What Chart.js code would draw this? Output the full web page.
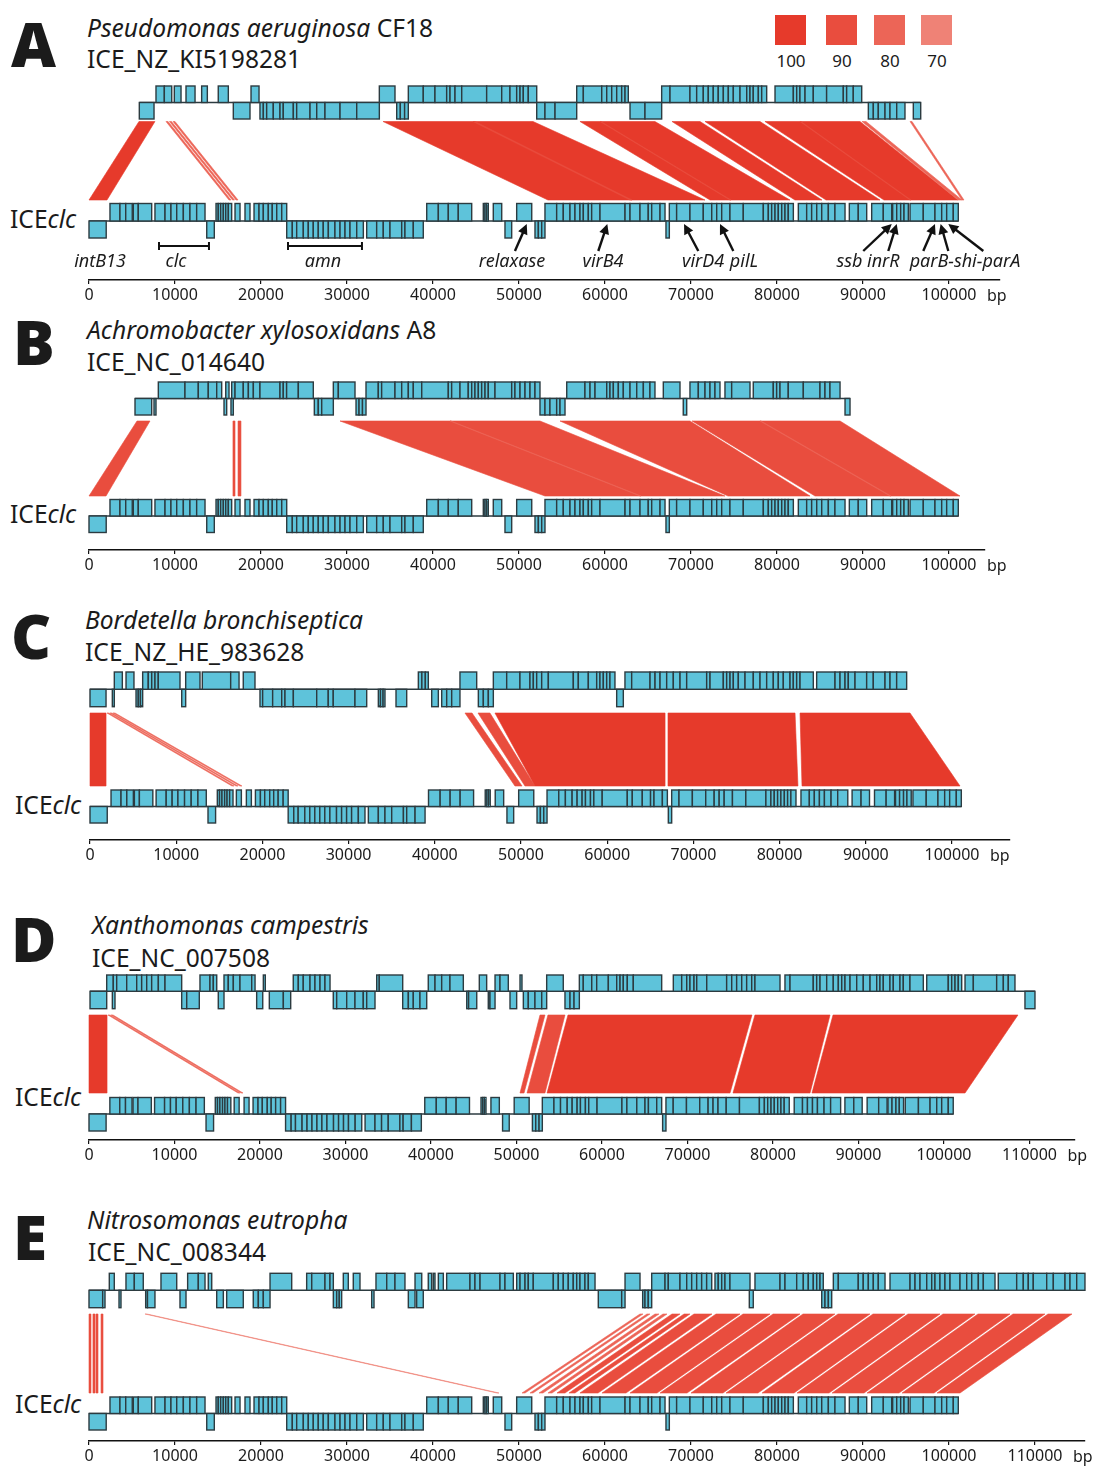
<!DOCTYPE html>
<html>
<head>
<meta charset="utf-8">
<script src="https://cdn.jsdelivr.net/npm/chart.js@4.4.0/dist/chart.umd.min.js"></script>
<style>
  body { margin: 0; background: #fff; width: 1103px; height: 1467px; position: relative; overflow: hidden;
         font-family: "Noto Sans", sans-serif; color: #1b1b1b; }
  .lt { position: absolute; font-weight: 900; font-size: 62px; line-height: 1; }
  .tx { position: absolute; font-size: 24.6px; line-height: 1; white-space: nowrap; }
  .tx i { font-style: italic; }
  canvas { position: absolute; left: 0; }
  #legend .sq { position: absolute; top: 15px; width: 31px; height: 30px; }
  #legend .lb { position: absolute; top: 52px; font-size: 17px; line-height: 1; width: 40px; text-align: center; }
</style>
</head>
<body>
<div class="lt" style="left:11px;top:12px">A</div>
<div class="tx" style="left:87px;top:16px"><i>Pseudomonas aeruginosa</i> CF18</div>
<div class="tx" style="left:87px;top:47px">ICE_NZ_KI5198281</div>
<div class="tx" style="left:10px;top:207px">ICE<i>clc</i></div>

<div class="lt" style="left:13px;top:310px">B</div>
<div class="tx" style="left:87px;top:318px"><i>Achromobacter xylosoxidans</i> A8</div>
<div class="tx" style="left:87px;top:350px">ICE_NC_014640</div>
<div class="tx" style="left:10px;top:502px">ICE<i>clc</i></div>

<div class="lt" style="left:11px;top:604px">C</div>
<div class="tx" style="left:85px;top:608px"><i>Bordetella bronchiseptica</i></div>
<div class="tx" style="left:85px;top:640px">ICE_NZ_HE_983628</div>
<div class="tx" style="left:15px;top:793px">ICE<i>clc</i></div>

<div class="lt" style="left:11px;top:907px">D</div>
<div class="tx" style="left:92px;top:913px"><i>Xanthomonas campestris</i></div>
<div class="tx" style="left:92px;top:946px">ICE_NC_007508</div>
<div class="tx" style="left:15px;top:1085px">ICE<i>clc</i></div>

<div class="lt" style="left:13px;top:1205px">E</div>
<div class="tx" style="left:87px;top:1208px"><i>Nitrosomonas eutropha</i></div>
<div class="tx" style="left:88px;top:1240px">ICE_NC_008344</div>
<div class="tx" style="left:15px;top:1392px">ICE<i>clc</i></div>

<div id="legend"></div>

<canvas id="cA"></canvas>
<canvas id="cB"></canvas>
<canvas id="cC"></canvas>
<canvas id="cD"></canvas>
<canvas id="cE"></canvas>

<script>
// identity legend
const identityLevels = [100, 90, 80, 70];
const identityColors = ['#e63a2b', '#e94d3e', '#ec6557', '#ef8276'];

// axis ticks (bp)
const ticks100 = [0, 10000, 20000, 30000, 40000, 50000, 60000, 70000, 80000, 90000, 100000];
const ticks110 = [0, 10000, 20000, 30000, 40000, 50000, 60000, 70000, 80000, 90000, 100000, 110000];

// genes: each run lists the borders (bp) of adjacent genes
const iceclcPlus = [
  [2440, 3600, 4270, 5030], [5150, 5730, 7290],
  [7670, 8840, 9530, 10200, 10970, 11740, 12520, 13490],
  [14770, 15030, 15310, 15620, 15900, 16200, 16590], [16980, 17560], [18140, 18720],
  [19190, 19770, 20270, 20850, 21310, 21830, 22410, 22990],
  [39270, 40620, 41780, 42940, 44500], [45850, 46050, 46250, 46430], [47010, 47990], [49730, 51480],
  [53020, 54380, 55150, 55930, 56510, 57090, 57480, 58060, 58450, 59420, 62330, 62910, 64070, 65030, 65430, 66400, 66980],
  [67480, 68330, 69880, 71430, 72410, 72990, 73570, 74530, 76080, 78410, 78990, 79380, 79770, 80150, 80550, 80930, 81310, 81900],
  [82480, 83450, 84030, 84620, 85200, 85970, 86740, 87910], [88410, 89450, 90430], [91010, 92360, 93340],
  [93450, 93920, 94380, 94770, 95270], [95470, 97010, 98370, 99150, 99730, 100500, 101080]
];
const iceclcMinus = [
  [0, 2000], [13690, 14570],
  [22990, 23640, 24150, 24920, 25500, 26080, 26660, 27240, 27830, 28600, 29190, 29770, 30350, 31130, 31900],
  [32290, 33450, 34220, 35000, 36360, 36740, 37710, 38870],
  [48370, 49150], [51860, 52250, 52640, 53020], [67090, 67480]
];

const aPlus = [
  [7790, 8760, 9620], [9920, 10700], [11280, 12330], [13100, 13760], [15030, 16200], [18840, 19770], [33760, 35580],
  [37130, 38870, 40230, 41590, 41980, 42560, 43340, 46240, 47990, 48950, 49730, 50120, 50500, 51080, 52060],
  [56710, 57480, 59620, 60200, 60780, 61360, 61940, 62330, 62710],
  [66590, 67560, 69880, 70660, 71430, 72010, 72590, 73170, 73760, 74340, 74920, 75700, 76480, 76860, 77240, 77830, 78220, 78800],
  [79770, 81900, 82290, 82670, 83260, 84220, 85770, 87710, 88100, 88870, 89850]
];
const aMinus = [
  [5850, 7560], [16780, 18720],
  [19880, 20270, 20660, 21430, 22210, 22590, 23760, 24150, 25700, 26480, 27440, 29190, 31130, 33760],
  [35780, 36200, 36700, 37130], [52060, 53020, 54190, 56710], [62910, 64650, 66590],
  [90620, 91200, 91780, 92560, 93140, 93920, 94880], [95850, 96710]
];

const bPlus = [
  [8060, 11160, 12710, 13870, 14850, 15430], [15900, 16280],
  [16590, 16980, 17940, 18530, 19110, 19880, 22210, 22590, 22980, 24340, 26080], [28410, 28990, 30930],
  [32210, 33640, 34030, 35580, 36360, 37130, 37710, 38690, 41780, 42170, 43140, 44100, 44500, 44880, 45270, 45660, 46050, 46430, 47210, 49150, 49530, 50120, 50700, 51280, 51860, 52440],
  [55550, 57670, 58260, 58840, 60200, 60580, 60970, 61550, 62130, 62910, 63690, 64460, 65230, 65810],
  [66780, 68720], [69880, 70850, 71630, 72210, 72790, 73370], [73950, 74730, 76860],
  [77240, 79570, 79960, 80350, 81310, 83060, 85000, 85580, 86160, 87330]
];
const bMinus = [
  [5350, 7290], [7560, 7790], [15700, 16010], [16510, 16780], [26200, 26660, 27060, 28410],
  [31050, 31400, 31800, 32210], [52440, 53020, 53600, 54380, 54770, 55350], [69100, 69500], [87910, 88490]
];

const cPlus = [
  [2820, 3750], [4180, 5100], [6110, 6760, 7160, 7540, 7920, 10440], [11100, 12760], [13030, 16320, 17290],
  [17780, 19140], [38090, 38500, 38900, 39250], [42920, 44860],
  [46790, 48340, 49880, 51040, 51430, 51820, 52400, 53170, 56070, 56650, 57810, 58780, 59160, 59550, 59940, 60320, 60900],
  [62060, 62840, 64970, 65550, 66130, 66900, 67670, 68450, 69220, 71540, 71930, 73470, 73860, 74250, 74630, 75210, 75990, 76950, 77730, 78500, 79270, 79850, 80430, 81210, 81590, 81980, 82370, 83910],
  [84300, 86430, 87010, 87590, 87970, 88750, 90100, 90870, 92230, 92810, 93580, 94740]
];
const cMinus = [
  [0, 1860], [2590, 2820], [5340, 5600, 5850, 6110], [10640, 11100],
  [19720, 20030, 21190, 22240, 22620, 23590, 26300, 27640, 28220, 30740, 32100],
  [33450, 33700, 34000, 34220], [35500, 36740], [39640, 40410], [40800, 41380, 41960, 42920],
  [45050, 45630, 46210, 46790], [61100, 61870]
];

const dPlus = [
  [2070, 2840, 3240, 4410, 5580, 6160, 6750, 7330, 8110, 8890, 10840], [12980, 14150, 14540, 14940],
  [15790, 16290, 16880, 17660, 19030, 19420], [20390, 20620],
  [23890, 24480, 25060, 25850, 26430, 27020, 27600, 28190], [33650, 33950, 36690],
  [39680, 40470, 41250, 42220, 43780], [45650, 46510], [47490, 48070, 49040], [50410, 50640], [53530, 55470],
  [57350, 57810, 58800, 59380, 60740, 61720, 62110, 62490, 62960, 63660, 66980],
  [68340, 69320, 69910, 70290, 70760, 71080, 72250, 74580, 75170, 75750, 76340, 76920, 77510, 77890, 80820],
  [81400, 81990, 84710, 85110, 85500, 86280, 87050, 87640, 88040, 88420, 89010, 89790, 90560, 91350, 92130, 92510, 92900, 93680, 94070, 94850, 95240, 96020, 97580],
  [97980, 100500, 100900, 101290, 101670, 102070], [102460, 103430, 106160, 106940, 107520, 108300]
];
const dMinus = [
  [120, 2070], [2730, 3040], [10840, 11430, 12900], [15120, 15790], [19610, 20320], [21090, 22730, 23590],
  [28570, 28970, 30140, 31110, 32080, 32480, 33450], [36690, 37350, 37930, 38710, 39500],
  [44180, 44400, 45350], [46700, 46900, 47490], [49240, 50020], [50800, 51380, 52160, 52950, 53530],
  [55670, 56260, 56730, 57350], [109470, 110640]
];

const ePlus = [
  [2360, 2940], [4300, 5270, 6310], [8370, 10200], [11470, 12710, 13490], [13870, 14270], [21050, 23570],
  [25310, 25900, 27440, 28020, 28410], [29570, 30150], [30730, 31510], [33370, 34620, 35580, 36740],
  [37910, 38690], [39450, 39850], [40030, 40230], [40620, 41200],
  [41590, 44300, 44880, 45470, 47790, 48370, 49340],
  [49730, 50120, 50700, 51080, 51660, 53990, 54570, 55150, 55730, 56310, 56710, 57090, 57670, 58060, 58840],
  [62330, 64070], [65430, 66980, 67360, 68720, 69500, 70080, 70660, 71240, 71820, 72410],
  [72790, 73170, 73570, 73950, 74530, 76860],
  [77440, 80350, 80930, 82290, 83060, 83640, 84220, 84620, 85000, 85380],
  [86550, 87130, 89450, 90030, 90620, 91200, 91780, 92560],
  [93140, 95470, 96050, 96630, 97410, 97990, 98370, 98950, 99530, 100120, 101280, 102060, 102640, 103410, 103990, 105350],
  [105730, 107870, 108640, 109220, 109800, 111360, 112130, 113490, 114070, 114850, 115810]
];
const eMinus = [
  [0, 1590, 1860], [3490, 3720], [6590, 6800, 7670], [10580, 11280], [14850, 15620], [16010, 17940],
  [19100, 19690, 20270, 21050], [28410, 28800, 29100, 29380], [32870, 33140], [37130, 37910], [38100, 38870],
  [59220, 61940, 62330], [64380, 64650, 65030, 65430], [76780, 77240], [85200, 85580, 85970, 86360]
];

// homology blocks: [top start, top end, ICEclc start, ICEclc end, % identity]
const homologyA = [
  [5810, 7670, 0, 2090, 100],
  [8950, 9190, 16280, 16510, 75], [9360, 9590, 16690, 16920, 75], [9770, 10000, 17090, 17330, 75],
  [34190, 51630, 53370, 71630, 100], [44650, 44880, 62910, 63140, 88],
  [57090, 65810, 72210, 81510, 98], [59420, 59530, 74530, 74650, 88],
  [67790, 71050, 82090, 85230, 96], [71630, 78020, 85700, 91980, 97],
  [78600, 89650, 92440, 101050, 97], [82670, 82790, 95470, 95580, 88],
  [89880, 90350, 101050, 101510, 75], [95470, 95700, 101510, 101740, 75]
];
const homologyB = [
  [5580, 7090, 0, 1980, 92], [16740, 16980, 16740, 16980, 85], [17330, 17670, 17330, 17670, 85],
  [29190, 52440, 53020, 73950, 93], [41980, 42090, 64070, 64190, 80],
  [54770, 69880, 74300, 83840, 92], [70120, 87330, 84420, 101280, 92], [78020, 78140, 93140, 93260, 80]
];
const homologyC = [
  [0, 1860, 0, 1860, 95],
  [1970, 2200, 16470, 16710, 75], [2320, 2550, 16940, 17170, 75], [2670, 2900, 17400, 17630, 75],
  [43500, 44320, 49300, 50120, 88], [45010, 46400, 50460, 51620, 92],
  [46980, 66710, 51620, 66710, 97], [67050, 81790, 67050, 82130, 97], [82370, 95130, 82600, 100930, 95]
];
const homologyD = [
  [0, 2110, 0, 2110, 97], [2220, 2460, 17430, 17660, 75], [2570, 2810, 17780, 18010, 75],
  [52750, 53330, 50410, 50880, 85], [53680, 55670, 51230, 53330, 92],
  [56020, 77540, 53570, 74970, 97], [77890, 86670, 75320, 84330, 96], [87020, 108650, 84560, 102460, 96]
];
const homologyE = [
  [0, 230, 0, 230, 85], [460, 700, 460, 700, 85], [810, 1050, 810, 1050, 85], [1400, 1630, 1400, 1630, 85],
  [6510, 6740, 47440, 47670, 70],
  [64070, 64420, 50350, 50700, 82], [64880, 65230, 51280, 51630, 82], [65810, 66280, 52330, 52790, 82],
  [66740, 67210, 53370, 53840, 82], [67790, 68720, 54420, 55350, 88], [69190, 69880, 55810, 56510, 88],
  [70350, 72440, 57090, 59190, 88], [72910, 75700, 59650, 62440, 88], [76050, 79190, 62910, 66050, 88],
  [79540, 82670, 66400, 69540, 88], [83020, 86740, 70000, 73720, 88], [87090, 90810, 74070, 77790, 88],
  [91160, 94880, 78260, 81980, 88], [95230, 98950, 82330, 86050, 88], [99300, 103020, 86400, 90120, 88],
  [103370, 107090, 90470, 94190, 88], [107440, 111160, 94540, 98260, 88], [111510, 114300, 98610, 101280, 88]
];

// gene annotations of panel A (bp)
const geneLabelsA = [
  ['intB13', 1280], ['clc', 10120], ['amn', 27210], ['relaxase', 49190], ['virB4', 59770],
  ['virD4', 71400], ['pilL', 76160], ['ssb inrR', 90580], ['parB-shi-parA', 101860]
];
const bracketsA = [[8140, 13950], [23140, 31740]];
// [tail bp, tip bp]
const arrowsA = [
  [49530, 50900], [59220, 60270], [70850, 69190], [74920, 73370], [90030, 93340],
  [92940, 93920], [97010, 98370], [99920, 99030], [103990, 99920]
];

// legend
const legend = document.getElementById('legend');
const legendX = [775, 826, 874, 921];
identityLevels.forEach((lv, i) => {
  legend.insertAdjacentHTML('beforeend',
    `<div class="sq" style="left:${legendX[i]}px;background:${identityColors[i]}"></div>` +
    `<div class="lb" style="left:${legendX[i] - 4}px">${lv}</div>`);
});

function idColor(p) {
  if (p >= 95) return identityColors[0];
  if (p >= 85) return identityColors[1];
  if (p >= 75) return identityColors[2];
  return identityColors[3];
}

const GENE_FILL = '#5ec3da';
const GENE_LINE = '#2c3b40';

const genomePlugin = {
  id: 'genome',
  beforeDatasetsDraw(chart, args, o) {
    const ctx = chart.ctx, x = chart.scales.x, y = chart.scales.y;
    const L = o.layout;
    ctx.save();
    // homology
    o.homology.forEach(h => {
      const yt = y.getPixelForValue(L.polyTop), yb = y.getPixelForValue(L.polyBot);
      ctx.beginPath();
      ctx.moveTo(x.getPixelForValue(h[0]), yt);
      ctx.lineTo(x.getPixelForValue(h[1]), yt);
      ctx.lineTo(x.getPixelForValue(h[3]), yb);
      ctx.lineTo(x.getPixelForValue(h[2]), yb);
      ctx.closePath();
      ctx.fillStyle = idColor(h[4]);
      ctx.strokeStyle = idColor(h[4]);
      ctx.lineWidth = 0.6;
      ctx.fill();
      ctx.stroke();
    });
    const track = (plus, minus, r) => {
      const all = plus.concat(minus).flat();
      const y0 = y.getPixelForValue(r[0]), y1 = y.getPixelForValue(r[1]), y2 = y.getPixelForValue(r[2]);
      ctx.strokeStyle = GENE_LINE;
      ctx.lineWidth = 1.4;
      ctx.beginPath();
      ctx.moveTo(x.getPixelForValue(Math.min(...all)), y1);
      ctx.lineTo(x.getPixelForValue(Math.max(...all)), y1);
      ctx.stroke();
      const boxes = (runs, ya, yb) => runs.forEach(run => {
        for (let i = 0; i < run.length - 1; i++) {
          const xa = x.getPixelForValue(run[i]), xb = x.getPixelForValue(run[i + 1]);
          ctx.fillStyle = GENE_FILL;
          ctx.fillRect(xa, ya, xb - xa, yb - ya);
          ctx.strokeRect(xa, ya, xb - xa, yb - ya);
        }
      });
      boxes(plus, y0, y1);
      boxes(minus, y1, y2);
    };
    track(o.plus, o.minus, L.topRows);
    track(iceclcPlus, iceclcMinus, L.botRows);
    // annotations
    if (o.labels) {
      ctx.fillStyle = '#1b1b1b';
      ctx.font = 'italic 18px "Noto Sans"';
      ctx.textAlign = 'center';
      ctx.textBaseline = 'alphabetic';
      o.labels.forEach(l => ctx.fillText(l[0], x.getPixelForValue(l[1]), y.getPixelForValue(L.labelBase)));
      ctx.strokeStyle = '#111';
      ctx.lineWidth = 2;
      o.brackets.forEach(b => {
        const xa = x.getPixelForValue(b[0]), xb = x.getPixelForValue(b[1]);
        const yb = y.getPixelForValue(L.bracketY);
        ctx.beginPath();
        ctx.moveTo(xa, yb); ctx.lineTo(xb, yb);
        ctx.moveTo(xa, yb - 4); ctx.lineTo(xa, yb + 4);
        ctx.moveTo(xb, yb - 4); ctx.lineTo(xb, yb + 4);
        ctx.stroke();
      });
      o.arrows.forEach(a => {
        const x0 = x.getPixelForValue(a[0]), y0 = y.getPixelForValue(L.arrowTail);
        const x1 = x.getPixelForValue(a[1]), y1 = y.getPixelForValue(L.arrowTip);
        const ang = Math.atan2(y1 - y0, x1 - x0);
        const hx = x1 - 7 * Math.cos(ang), hy = y1 - 7 * Math.sin(ang);
        ctx.lineWidth = 2.4;
        ctx.beginPath(); ctx.moveTo(x0, y0); ctx.lineTo(hx, hy); ctx.stroke();
        ctx.fillStyle = '#111';
        ctx.beginPath();
        ctx.moveTo(x1, y1);
        ctx.lineTo(x1 - 10 * Math.cos(ang) + 5 * Math.sin(ang), y1 - 10 * Math.sin(ang) - 5 * Math.cos(ang));
        ctx.lineTo(x1 - 10 * Math.cos(ang) - 5 * Math.sin(ang), y1 - 10 * Math.sin(ang) + 5 * Math.cos(ang));
        ctx.closePath();
        ctx.fill();
      });
    }
    ctx.restore();
  },
  afterDraw(chart, args, o) {
    const ctx = chart.ctx, x = chart.scales.x;
    const last = o.ticks[o.ticks.length - 1];
    ctx.save();
    ctx.fillStyle = '#1b1b1b';
    ctx.font = '16px "Noto Sans"';
    ctx.textBaseline = 'middle';
    ctx.fillText('bp', x.getPixelForValue(last) + 38, chart.chartArea.bottom + 16);
    ctx.restore();
  }
};

function panel(id, p) {
  const cv = document.getElementById(id);
  const AXH = 32;
  cv.width = 1103;
  cv.height = p.axisY - p.top + AXH;
  cv.style.top = p.top + 'px';
  const maxBp = (p.xEnd - p.origin) / p.pxPerKb * 1000;
  new Chart(cv, {
    type: 'scatter',
    data: { datasets: [{ data: [] }] },
    options: {
      responsive: false,
      animation: false,
      devicePixelRatio: 1,
      layout: { padding: { left: p.origin, right: 1103 - p.xEnd, top: 0, bottom: 0 } },
      plugins: {
        legend: { display: false },
        tooltip: { enabled: false },
        genome: {
          layout: p.layout, plus: p.plus, minus: p.minus, homology: p.homology, ticks: p.ticks,
          labels: p.labels, brackets: p.brackets, arrows: p.arrows
        }
      },
      scales: {
        x: {
          type: 'linear', min: 0, max: maxBp,
          afterBuildTicks: s => { s.ticks = p.ticks.map(v => ({ value: v })); },
          afterFit: s => { s.height = AXH; },
          border: { display: true, color: '#111', width: 1.5 },
          grid: { drawOnChartArea: false, drawTicks: true, tickLength: 4, color: '#111', lineWidth: 1.2 },
          ticks: { autoSkip: false, maxRotation: 0, color: '#1b1b1b', padding: 2,
                   font: { family: 'Noto Sans', size: 16 }, callback: v => String(v) }
        },
        y: { type: 'linear', display: false, reverse: true, min: p.top, max: p.axisY }
      }
    },
    plugins: [genomePlugin]
  });
}

panel('cA', {
  top: 80, axisY: 280, origin: 89, pxPerKb: 8.6, xEnd: 1000, ticks: ticks100,
  plus: aPlus, minus: aMinus, homology: homologyA,
  layout: { topRows: [86, 102.5, 119], polyTop: 121.5, polyBot: 200, botRows: [203.5, 221, 238],
            labelBase: 267, bracketY: 246, arrowTail: 251, arrowTip: 224 },
  labels: geneLabelsA, brackets: bracketsA, arrows: arrowsA
});
panel('cB', {
  top: 376, axisY: 550, origin: 89, pxPerKb: 8.6, xEnd: 985, ticks: ticks100,
  plus: bPlus, minus: bMinus, homology: homologyB,
  layout: { topRows: [382, 398.5, 415], polyTop: 421, polyBot: 496, botRows: [499.5, 516, 532.5] }
});
panel('cC', {
  top: 666, axisY: 840, origin: 90, pxPerKb: 8.62, xEnd: 1010, ticks: ticks100,
  plus: cPlus, minus: cMinus, homology: homologyC,
  layout: { topRows: [672, 689.3, 706.7], polyTop: 713, polyBot: 786, botRows: [790, 806.5, 823] }
});
panel('cD', {
  top: 968, axisY: 1140, origin: 89, pxPerKb: 8.55, xEnd: 1075, ticks: ticks110,
  plus: dPlus, minus: dMinus, homology: homologyD,
  layout: { topRows: [975, 991.3, 1008.7], polyTop: 1015, polyBot: 1093, botRows: [1097.5, 1114, 1131] }
});
panel('cE', {
  top: 1266, axisY: 1441, origin: 89, pxPerKb: 8.6, xEnd: 1085, ticks: ticks110,
  plus: ePlus, minus: eMinus, homology: homologyE,
  layout: { topRows: [1273.3, 1290.3, 1307.7], polyTop: 1314, polyBot: 1393, botRows: [1397, 1413.5, 1430] }
});
</script>
</body>
</html>
